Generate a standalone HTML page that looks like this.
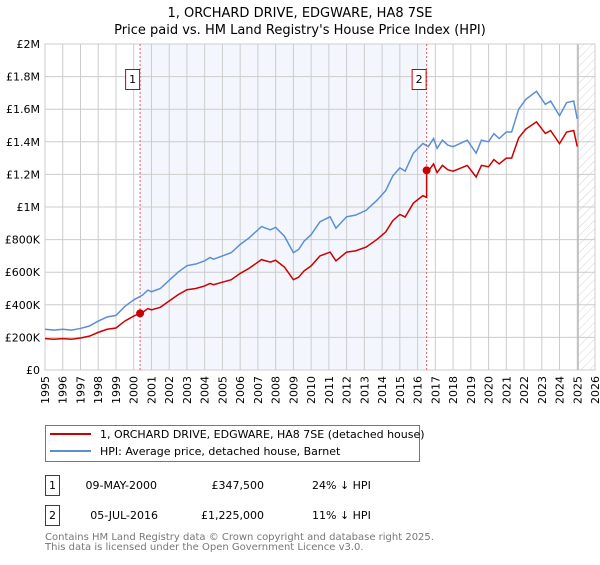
<!DOCTYPE html>
<html><head><meta charset="utf-8"><style>
body{margin:0;background:#fff}
svg{font-family:"DejaVu Sans","Liberation Sans",sans-serif}
</style></head><body>
<svg width="600" height="560" viewBox="0 0 600 560">
<text x="300" y="17" text-anchor="middle" font-size="13">1, ORCHARD DRIVE, EDGWARE, HA8 7SE</text>
<text x="300" y="34" text-anchor="middle" font-size="13">Price paid vs. HM Land Registry's House Price Index (HPI)</text>
<g id="plot"></g>
<rect x="45.5" y="425.5" width="374" height="36" fill="#fff" stroke="#777"/>
<line x1="50" y1="434" x2="91" y2="434" stroke="#cc0000" stroke-width="2"/>
<text x="100" y="438" font-size="11">1, ORCHARD DRIVE, EDGWARE, HA8 7SE (detached house)</text>
<line x1="50" y1="451" x2="91" y2="451" stroke="#5b8fd4" stroke-width="2"/>
<text x="100" y="455" font-size="11">HPI: Average price, detached house, Barnet</text>
<g font-size="11">
<rect x="45.5" y="475.5" width="14" height="20" fill="#fff" stroke="#cc0000"/>
<text x="52.5" y="489" text-anchor="middle">1</text>
<text x="157" y="489" text-anchor="end">09-MAY-2000</text>
<text x="264" y="489" text-anchor="end">£347,500</text>
<text x="312" y="489">24% ↓ HPI</text>
<rect x="45.5" y="505.5" width="14" height="20" fill="#fff" stroke="#cc0000"/>
<text x="52.5" y="519" text-anchor="middle">2</text>
<text x="158" y="519" text-anchor="end">05-JUL-2016</text>
<text x="264" y="519" text-anchor="end">£1,225,000</text>
<text x="312" y="519">11% ↓ HPI</text>
</g>
<text x="45" y="540" font-size="10" fill="#777">Contains HM Land Registry data © Crown copyright and database right 2025.</text>
<text x="45" y="550" font-size="10" fill="#777">This data is licensed under the Open Government Licence v3.0.</text>
</svg>
<script>
const hpiYears=[1995,1995.5,1996,1996.5,1997,1997.5,1998,1998.5,1999,1999.5,2000,2000.5,2000.8,2001,2001.5,2002,2002.5,2003,2003.5,2004,2004.3,2004.5,2005,2005.5,2006,2006.5,2007.2,2007.7,2008,2008.5,2009,2009.3,2009.6,2010,2010.5,2011.07,2011.4,2012,2012.5,2013.1,2013.7,2014.2,2014.6,2015,2015.3,2015.76,2016.3,2016.6,2016.9,2017.1,2017.4,2017.7,2018,2018.4,2018.8,2019.3,2019.6,2020,2020.3,2020.6,2021,2021.3,2021.7,2022.1,2022.7,2023.2,2023.5,2024,2024.4,2024.8,2025.0];
const hpiValues=[0.25,0.245,0.25,0.245,0.255,0.27,0.3,0.325,0.335,0.39,0.43,0.46,0.49,0.48,0.5,0.55,0.6,0.64,0.65,0.67,0.69,0.68,0.7,0.72,0.77,0.81,0.88,0.86,0.875,0.82,0.72,0.74,0.79,0.83,0.91,0.94,0.87,0.94,0.95,0.98,1.04,1.1,1.19,1.24,1.22,1.33,1.39,1.37,1.42,1.36,1.41,1.38,1.37,1.39,1.41,1.33,1.41,1.4,1.45,1.42,1.46,1.46,1.6,1.66,1.71,1.63,1.65,1.56,1.64,1.65,1.54];
const saleYears=[2000.36,2016.51];
const salePrices=[0.3475,1.225];
const saleLabels=["1","2"];
const yTicks=[0,0.2,0.4,0.6,0.8,1.0,1.2,1.4,1.6,1.8,2.0];
const yTickLabels=["£0","£200K","£400K","£600K","£800K","£1M","£1.2M","£1.4M","£1.6M","£1.8M","£2M"];
const xTicks=[1995,1996,1997,1998,1999,2000,2001,2002,2003,2004,2005,2006,2007,2008,2009,2010,2011,2012,2013,2014,2015,2016,2017,2018,2019,2020,2021,2022,2023,2024,2025,2026];
const dataEnd=2025.05;

const L=45,R=595,T=44,B=370;
const xs=y=>L+(y-1995)*(R-L)/31;
const ys=v=>B-v*(B-T)/2;
const NS="http://www.w3.org/2000/svg";
const g=document.getElementById('plot');
function mk(tag,attrs,parent){const e=document.createElementNS(NS,tag);for(const k in attrs)e.setAttribute(k,attrs[k]);(parent||g).appendChild(e);return e;}
function hpiAt(t){for(let i=1;i<hpiYears.length;i++){if(t<=hpiYears[i]){const f=(t-hpiYears[i-1])/(hpiYears[i]-hpiYears[i-1]);return hpiValues[i-1]+f*(hpiValues[i]-hpiValues[i-1]);}}return hpiValues[hpiValues.length-1];}

const sh=mk('rect',{x:xs(saleYears[0]),y:T,width:xs(saleYears[1])-xs(saleYears[0]),height:B-T,fill:'#eef3fc',opacity:0.7});


const defs=mk('defs',{});
const pat=mk('pattern',{id:'hatch',width:6,height:6,patternUnits:'userSpaceOnUse',patternTransform:'rotate(45)'},defs);
mk('line',{x1:0,y1:0,x2:0,y2:6,stroke:'#d4d4d4','stroke-width':1},pat);
const ht=mk('rect',{x:xs(dataEnd),y:T,width:R-xs(dataEnd),height:B-T,fill:'url(#hatch)'});


yTicks.forEach((v,i)=>{
  const l=mk('line',{x1:L,x2:R,y1:ys(v),y2:ys(v),stroke:'#ccc','stroke-width':1});
  
  
  const t=mk('text',{x:L-5,y:ys(v)+4,'text-anchor':'end','font-size':11});
  
  
  t.textContent=yTickLabels[i];
});
xTicks.forEach(yr=>{
  const l=mk('line',{x1:xs(yr),x2:xs(yr),y1:T,y2:B,stroke:'#ccc','stroke-width':1});
  
  
  const t=mk('text',{x:0,y:0,'text-anchor':'end','font-size':11,transform:`translate(${xs(yr)+4},${B+6}) rotate(-90)`});
  
  
  t.textContent=yr;
});
const dl=mk('line',{x1:xs(dataEnd),x2:xs(dataEnd),y1:T,y2:B,stroke:'#aaa','stroke-width':1});


mk('rect',{x:L,y:T,width:R-L,height:B-T,fill:'none',stroke:'#ccc'});
saleYears.forEach((sy,i)=>{
  const l=mk('line',{x1:xs(sy),x2:xs(sy),y1:T,y2:B,stroke:'#e06060','stroke-dasharray':'2,2','stroke-width':1});
  
  
  const bx=mk('rect',{x:xs(sy)-14.5,y:69.5,width:14,height:20,fill:'#fff',stroke:'#cc0000'});
  
  
  const t=mk('text',{x:xs(sy)-7.5,y:83,'text-anchor':'middle','font-size':11});
  
  
  t.textContent=saleLabels[i];
});
const hp=mk('polyline',{points:hpiYears.map((y,i)=>xs(y)+','+ys(hpiValues[i])).join(' '),fill:'none',stroke:'#5b8fd4','stroke-width':1.5});


const r0=salePrices[0]/hpiAt(saleYears[0]), r1=salePrices[1]/hpiAt(saleYears[1]);
const pts=[];
hpiYears.forEach((y,i)=>{ if(y<saleYears[1]){pts.push([y,hpiValues[i]*r0]);} });
pts.push([saleYears[1],hpiAt(saleYears[1])*r0]);
pts.push([saleYears[1],salePrices[1]]);
hpiYears.forEach((y,i)=>{if(y>saleYears[1])pts.push([y,hpiValues[i]*r1]);});
const pp=mk('polyline',{points:pts.map(p=>xs(p[0])+','+ys(p[1])).join(' '),fill:'none',stroke:'#cc0000','stroke-width':1.5});


saleYears.forEach((sy,i)=>{
  const c=mk('circle',{cx:xs(sy),cy:ys(salePrices[i]),r:4,fill:'#cc0000'});
  
  
});
</script>
</body></html>
